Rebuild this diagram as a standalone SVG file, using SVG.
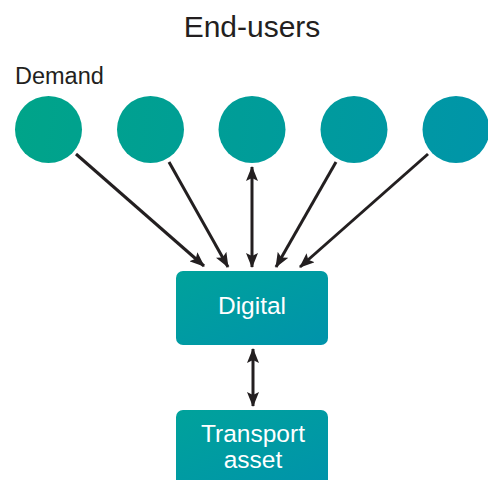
<svg xmlns="http://www.w3.org/2000/svg" width="488" height="480" viewBox="0 0 488 480">
<style>
.t{font-family:"Liberation Sans",Arial,sans-serif;fill:#231f20}
.w{font-family:"Liberation Sans",Arial,sans-serif;fill:#ffffff;font-size:24.5px;text-anchor:middle}
.c{stroke:#231f20;stroke-width:3;fill:none}
</style>
<defs>
<linearGradient id="cg" gradientUnits="userSpaceOnUse" x1="15" y1="100" x2="490" y2="160">
<stop offset="0" stop-color="#00a489"/>
<stop offset="1" stop-color="#0095a9"/>
</linearGradient>
<linearGradient id="bg" x1="0" y1="0" x2="1" y2="1">
<stop offset="0" stop-color="#00a29b"/>
<stop offset="1" stop-color="#0093ab"/>
</linearGradient>
<marker id="ah" markerUnits="userSpaceOnUse" markerWidth="15" markerHeight="12" refX="14" refY="6" orient="auto-start-reverse" viewBox="0 0 15 12">
<path d="M0,0 L15,6 L0,12 L3,6 Z" fill="#231f20"/>
</marker>
</defs>
<text class="t" x="252" y="37" font-size="30" text-anchor="middle">End-users</text>
<text class="t" x="15" y="84" font-size="23.5">Demand</text>
<g id="u1"><circle cx="48.5" cy="129.5" r="33.5" fill="url(#cg)"/></g>
<g id="u2"><circle cx="150.5" cy="129.5" r="33.5" fill="url(#cg)"/></g>
<g id="u3"><circle cx="252" cy="129.5" r="33.5" fill="url(#cg)"/></g>
<g id="u4"><circle cx="354" cy="129.5" r="33.5" fill="url(#cg)"/></g>
<g id="u5"><circle cx="456" cy="129.5" r="33.5" fill="url(#cg)"/></g>
<g id="digital">
<rect x="176" y="271" width="152" height="74" rx="7" fill="url(#bg)"/>
<text class="w" x="252" y="314">Digital</text>
</g>
<g id="transport">
<rect x="176" y="410" width="152" height="78" rx="7" fill="url(#bg)"/>
<text class="w" x="253" y="442">Transport</text>
<text class="w" x="253" y="468">asset</text>
</g>
<g id="connectors">
<line class="c" x1="76" y1="154" x2="204" y2="266" marker-end="url(#ah)"/>
<line class="c" x1="169" y1="162" x2="228" y2="267" marker-end="url(#ah)"/>
<line class="c" x1="252" y1="167" x2="252" y2="267" marker-start="url(#ah)" marker-end="url(#ah)"/>
<line class="c" x1="336" y1="162" x2="276" y2="267" marker-end="url(#ah)"/>
<line class="c" x1="428" y1="154" x2="300" y2="267" marker-end="url(#ah)"/>
<line class="c" x1="253" y1="349" x2="253" y2="406" marker-start="url(#ah)" marker-end="url(#ah)"/>
</g>
</svg>
